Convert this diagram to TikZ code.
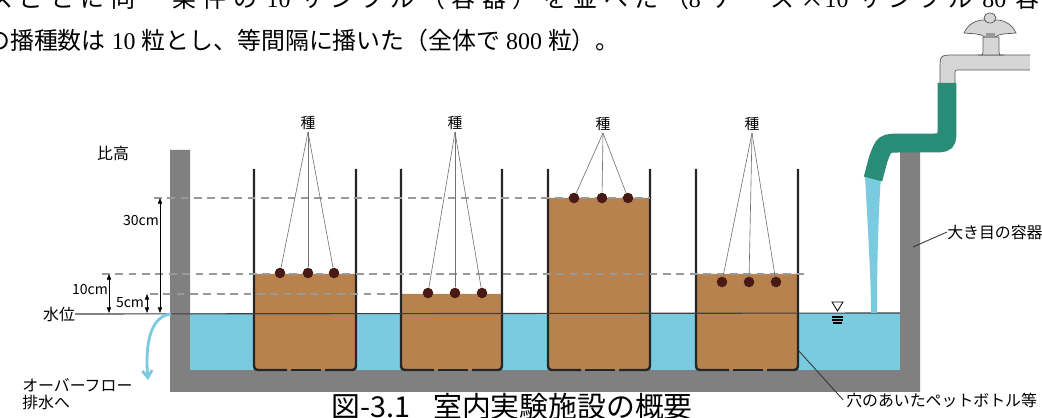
\documentclass[tikz,border=0pt]{standalone}
\usepackage{fontspec}
\setmainfont{Liberation Serif}
\newfontfamily\jp{Noto Sans CJK JP}
\newfontfamily\jpwide[LetterSpace=27.5]{Noto Sans CJK JP}
\usetikzlibrary{arrows.meta}

\definecolor{wallgray}{RGB}{128,128,128}
\definecolor{water}{RGB}{122,202,224}
\definecolor{soil}{RGB}{183,130,78}
\definecolor{seedcol}{RGB}{72,26,22}
\definecolor{hosecol}{RGB}{40,140,118}
\definecolor{tapgray}{RGB}{214,214,214}

\newcommand{\gap}{\hspace{0.4em}}

\tikzset{
  body/.style={font=\fontsize{17}{17}\selectfont, inner sep=0pt},
  captext/.style={font=\jp\fontsize{20.5}{20.5}\selectfont, inner sep=0pt},
  lbl/.style={font=\jp\fontsize{11.3}{11.3}\selectfont, inner sep=0pt},
  seedlbl/.style={font=\jp\fontsize{10.5}{10.5}\selectfont, inner sep=1.5pt},
  dimlbl/.style={font=\jp\fontsize{10}{10}\selectfont, inner sep=0pt},
  bottlewall/.style={line width=1.7pt, draw=black!85},
  seed/.style={circle, fill=seedcol, minimum size=7.5pt, inner sep=0pt},
  pointer/.style={draw=black!55, line width=0.45pt},
  guide/.style={draw=black!40, line width=0.8pt, dash pattern=on 5.5pt off 4pt},
  dimline/.style={line width=0.5pt, {Triangle[length=4pt,width=3pt]}-{Triangle[length=4pt,width=3pt]}},
  leader/.style={line width=0.6pt, draw=black!80},
  tap/.style={fill=tapgray, draw=black!65, line width=0.5pt},
  hose/.style={draw=hosecol, line width=13.5pt},
}

\begin{document}
\begin{tikzpicture}[x=0.025cm, y=-0.025cm]
\useasboundingbox (0,0) rectangle (1042,418);
\clip (0,0) rectangle (1042,418);

% running text above the figure (first line is a justified one)
\node[body, anchor=west] (line1) at (-11,-2) {{\jpwide スごとに同一条件の}\gap 10\gap{\jpwide サンプル（容器）を並べた（}8\gap{\jpwide ケース×}10\gap{\jpwide サンプル}\gap 80\gap{\jpwide 容器）}};
\node[body, anchor=west] (line2) at (-14,40) {{\jp の播種数は} 10 {\jp 粒とし、等間隔に播いた（全体で} 800 {\jp 粒）。}};

% outer container
\fill[wallgray] (170,150) -- (190,150) -- (190,370) -- (900,370) -- (900,152) -- (920,152) -- (920,392) -- (170,392) -- cycle;
\fill[water] (190,313) rectangle (900,370);

% soil in the bottles
\fill[soil] (254,274) -- (254,362) .. controls (254,370) .. (262,370) -- (348,370) .. controls (356,370) .. (356,362) -- (356,274) -- cycle;
\fill[soil] (401,294) -- (401,362) .. controls (401,370) .. (409,370) -- (494,370) .. controls (502,370) .. (502,362) -- (502,294) -- cycle;
\fill[soil] (548,198) -- (548,362) .. controls (548,370) .. (556,370) -- (642,370) .. controls (650,370) .. (650,362) -- (650,198) -- cycle;
\fill[soil] (696,274) -- (696,362) .. controls (696,370) .. (704,370) -- (790,370) .. controls (798,370) .. (798,362) -- (798,274) -- cycle;

% bottle walls, holes left open in the bottom
\draw[bottlewall] (254,169) -- (254,362) .. controls (254,370) .. (262,370) -- (287,370);
\draw[bottlewall] (291,370) -- (321,370);
\draw[bottlewall] (325,370) -- (348,370) .. controls (356,370) .. (356,362) -- (356,169);
\draw[bottlewall] (401,169) -- (401,362) .. controls (401,370) .. (409,370) -- (434,370);
\draw[bottlewall] (438,370) -- (468,370);
\draw[bottlewall] (472,370) -- (494,370) .. controls (502,370) .. (502,362) -- (502,169);
\draw[bottlewall] (548,169) -- (548,362) .. controls (548,370) .. (556,370) -- (581,370);
\draw[bottlewall] (585,370) -- (615,370);
\draw[bottlewall] (619,370) -- (642,370) .. controls (650,370) .. (650,362) -- (650,169);
\draw[bottlewall] (696,169) -- (696,362) .. controls (696,370) .. (704,370) -- (729,370);
\draw[bottlewall] (733,370) -- (763,370);
\draw[bottlewall] (767,370) -- (790,370) .. controls (798,370) .. (798,362) -- (798,169);

% height guides
\draw[guide] (154,198) -- (650,198);
\draw[guide] (102,274) -- (810,274);
\draw[guide] (150,294) -- (401,294);

% water level
\node[lbl] (suii) at (59,314) {水位};
\coordinate (wlr) at (900,313);
\draw[line width=0.8pt, draw=black!75] (suii.east) -- (wlr);
\draw[line width=0.6pt] (832,302) -- (843,302) -- (837.5,311) -- cycle;
\draw[line width=1pt] (832,317) -- (843,317);
\draw[line width=1pt] (832,320) -- (843,320);
\draw[line width=1pt] (833,323) -- (842,323);

% heights above the water level
\node[lbl] (hikou) at (113,153) {比高};
\coordinate (t30) at (160,198);
\coordinate (b30) at (160,313);
\coordinate (t10) at (109,274);
\coordinate (b10) at (109,313);
\coordinate (t5) at (147,294);
\coordinate (b5) at (147,313);
\draw[dimline] (b30) -- (t30);
\draw[dimline] (b10) -- (t10);
\draw[dimline] (b5) -- (t5);
\node[dimlbl] (l30) at (141,220) {30cm};
\node[dimlbl] (l10) at (90,289) {10cm};
\node[dimlbl] (l5) at (130,303) {5cm};

% overflow
\coordinate (spill) at (171,314);
\coordinate (drain) at (148,380);
\draw[draw=water, line width=2pt, -{Straight Barb[length=5pt,width=7pt]}] (spill) .. controls (150,316) and (145,345) .. (drain);
\node[lbl, anchor=west] (overflow) at (22,385) {オーバーフロー};
\node[lbl, anchor=west] (haisui) at (22,402) {排水へ};

% seeds
\node[seed] (s11) at (280,273) {};
\node[seed] (s12) at (308,273) {};
\node[seed] (s13) at (334,273) {};
\node[seed] (s21) at (428,293) {};
\node[seed] (s22) at (455,293) {};
\node[seed] (s23) at (482,293) {};
\node[seed] (s31) at (574,198) {};
\node[seed] (s32) at (602,198) {};
\node[seed] (s33) at (628,198) {};
\node[seed] (s41) at (722,282) {};
\node[seed] (s42) at (749,282) {};
\node[seed] (s43) at (776,282) {};

\node[seedlbl] (tane1) at (308,123) {種};
\node[seedlbl] (tane2) at (455,123) {種};
\node[seedlbl] (tane3) at (603,124) {種};
\node[seedlbl] (tane4) at (752,124) {種};
\draw[pointer] (tane1.south) -- (s11);
\draw[pointer] (tane1.south) -- (s12);
\draw[pointer] (tane1.south) -- (s13);
\draw[pointer] (tane2.south) -- (s21);
\draw[pointer] (tane2.south) -- (s22);
\draw[pointer] (tane2.south) -- (s23);
\draw[pointer] (tane3.south) -- (s31);
\draw[pointer] (tane3.south) -- (s32);
\draw[pointer] (tane3.south) -- (s33);
\draw[pointer] (tane4.south) -- (s41);
\draw[pointer] (tane4.south) -- (s42);
\draw[pointer] (tane4.south) -- (s43);

% tap, hose and falling water
\fill[water] (865,176) .. controls (868,230) and (871,280) .. (871,313) -- (877,313) .. controls (877,270) and (878,220) .. (881,176) -- cycle;
\fill[tapgray] (1030,55) -- (955,55) .. controls (940,55) .. (940,70) -- (940,86) -- (955,86) -- (955,74) .. controls (955,70) .. (959,70) -- (1030,70) -- cycle;
\draw[tap, fill=none] (1030,55) -- (955,55) .. controls (940,55) .. (940,70) -- (940,86);
\draw[tap, fill=none] (955,86) -- (955,74) .. controls (955,70) .. (959,70) -- (1030,70);
\filldraw[tap] (983,37) -- (983,52) .. controls (983,55) .. (978,55) -- (1004,55) .. controls (999,55) .. (999,52) -- (999,37) -- cycle;
\filldraw[tap] (964,33) .. controls (968,24) and (976,20) .. (984,20) -- (996,20) .. controls (1004,20) and (1012,24) .. (1016,33) .. controls (1008,34) and (1000,33) .. (995,37) -- (985,37) .. controls (980,33) and (972,34) .. (964,33) -- cycle;
\fill[black!40] (986,33) rectangle (995,38);
\filldraw[tap] (990,18) ellipse (6 and 5);
\draw[hose] (947,83) -- (947,128) .. controls (947,143) .. (932,143) -- (902,143) .. controls (884,143) .. (878,160) -- (873,179);

% labels with leaders
\node[lbl, anchor=west] (youki) at (947,232) {大き目の容器};
\coordinate (wallpt) at (913,247);
\draw[leader] (youki.west) -- (wallpt);
\node[lbl, anchor=west] (petbottle) at (846,400) {穴のあいたペットボトル等};
\coordinate (bottlept) at (798,350);
\draw[leader] ([xshift=-2pt]petbottle.west) -- (bottlept);

% caption
\node[captext] (caption) at (512,407) {図-3.1\hspace{0.8em}室内実験施設の概要};
\end{tikzpicture}
\end{document}
